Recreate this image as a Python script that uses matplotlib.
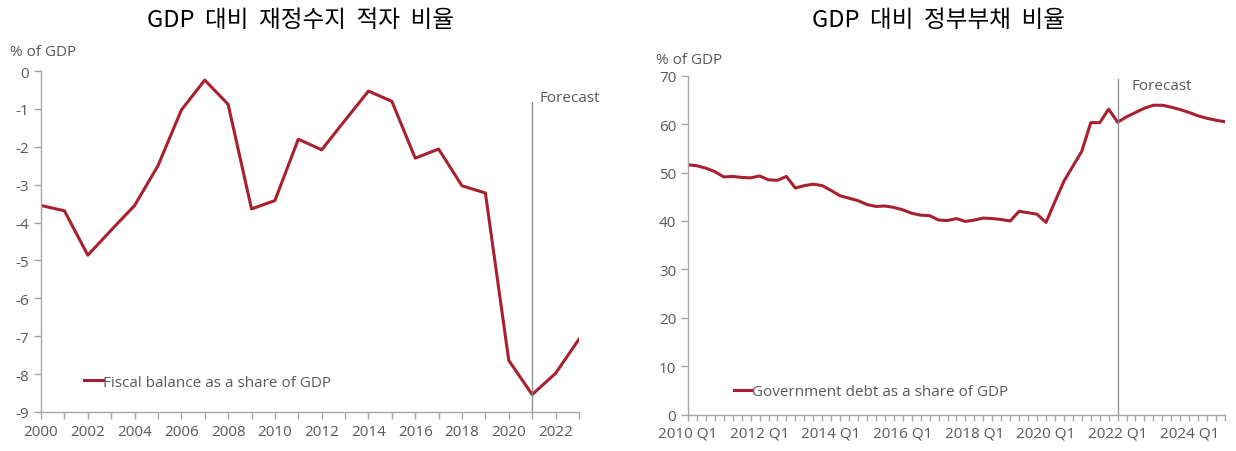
import numpy as np
import matplotlib
matplotlib.use('Agg')
import matplotlib.pyplot as plt

plt.rcParams['font.family'] = ['Open Sans', 'Noto Sans CJK KR', 'DejaVu Sans']
plt.rcParams['axes.unicode_minus'] = False

# 재정수지 (연간, % of GDP)
years = list(range(2000, 2024))
fiscal_balance = [-3.55, -3.69, -4.86, -4.2, -3.55, -2.5, -1.03, -0.24, -0.88, -3.64,
                  -3.42, -1.8, -2.08, -1.3, -0.53, -0.8, -2.3, -2.06, -3.03, -3.22,
                  -7.64, -8.54, -7.98, -7.08]

# 정부부채 (분기, % of GDP), 2010 Q1 ~ 2025 Q1
gov_debt = [51.6, 51.4, 50.9, 50.2, 49.1, 49.2, 49.0, 48.9, 49.3, 48.5,
            48.4, 49.2, 46.8, 47.3, 47.6, 47.3, 46.3, 45.2, 44.7, 44.2,
            43.4, 43.0, 43.1, 42.8, 42.3, 41.6, 41.2, 41.1, 40.2, 40.1,
            40.5, 39.9, 40.2, 40.6, 40.5, 40.3, 40.0, 42.0, 41.7, 41.4,
            39.7, 44.0, 48.2, 51.3, 54.4, 60.3, 60.3, 63.1, 60.4, 61.5,
            62.4, 63.3, 63.9, 63.9, 63.5, 63.0, 62.4, 61.7, 61.2, 60.8,
            60.5]
quarter_labels = ['%d Q1' % y for y in range(2010, 2026, 2)]

line_color = '#a8202f'
gray = '#595959'
axis_gray = '#a6a6a6'

fig = plt.figure(figsize=(12.36, 4.52), dpi=100)
ax1 = fig.add_axes([0.0332, 0.0863, 0.4352, 0.7544])
ax2 = fig.add_axes([0.5566, 0.0803, 0.4345, 0.75])

for ax in (ax1, ax2):
    for s in ('top', 'right'):
        ax.spines[s].set_visible(False)
    for s in ('left', 'bottom'):
        ax.spines[s].set_color(axis_gray)
        ax.spines[s].set_linewidth(1.0)
    ax.tick_params(colors=axis_gray, labelcolor=gray, labelsize=11, length=5, width=1.0)

# 왼쪽: 재정수지
ax1.plot(years, fiscal_balance, color=line_color, lw=2.2, label='Fiscal balance as a share of GDP')
ax1.set_xlim(2000, 2023)
ax1.set_ylim(-9, 0)
ax1.set_yticks(range(-9, 1))
ax1.set_xticks(range(2000, 2024))
ax1.set_xticklabels([str(y) if y % 2 == 0 else '' for y in range(2000, 2024)])
ax1.axvline(2021, ymin=0, ymax=0.91, color='#8c8c8c', lw=0.9)
ax1.text(2021.3, -0.9, 'Forecast', color=gray, fontsize=11, va='bottom')
ax1.text(-0.058, 1.035, '% of GDP', transform=ax1.transAxes, color=gray, fontsize=11, va='bottom')
ax1.legend(loc='lower left', bbox_to_anchor=(0.055, 0.025), frameon=False, fontsize=11,
           handlelength=1.2, handletextpad=0.0, labelcolor=gray)

# 오른쪽: 정부부채
xq = np.arange(len(gov_debt))
ax2.plot(xq, gov_debt, color=line_color, lw=2.2, label='Government debt as a share of GDP')
ax2.set_xlim(0, 60)
ax2.set_ylim(0, 70)
ax2.set_yticks(range(0, 71, 10))
ax2.set_xticks(xq)
ax2.set_xticklabels([quarter_labels[i // 8] if i % 8 == 0 else '' for i in xq])
ax2.tick_params(axis='x', length=4)
ax2.axvline(48, ymin=0, ymax=0.99, color='#8c8c8c', lw=0.9)
ax2.text(49.5, 66.5, 'Forecast', color=gray, fontsize=11, va='bottom')
ax2.text(-0.06, 1.025, '% of GDP', transform=ax2.transAxes, color=gray, fontsize=11, va='bottom')
ax2.legend(loc='lower left', bbox_to_anchor=(0.06, 0.005), frameon=False, fontsize=11,
           handlelength=1.2, handletextpad=0.0, labelcolor=gray)

fig.text(0.243, 0.955, 'GDP  대비  재정수지  적자  비율', ha='center', va='center', fontsize=17,
         family=['Noto Sans CJK KR'], fontweight='medium', color='black')
fig.text(0.759, 0.955, 'GDP  대비  정부부채  비율', ha='center', va='center', fontsize=17,
         family=['Noto Sans CJK KR'], fontweight='medium', color='black')

fig.savefig('out.png', dpi=100)
